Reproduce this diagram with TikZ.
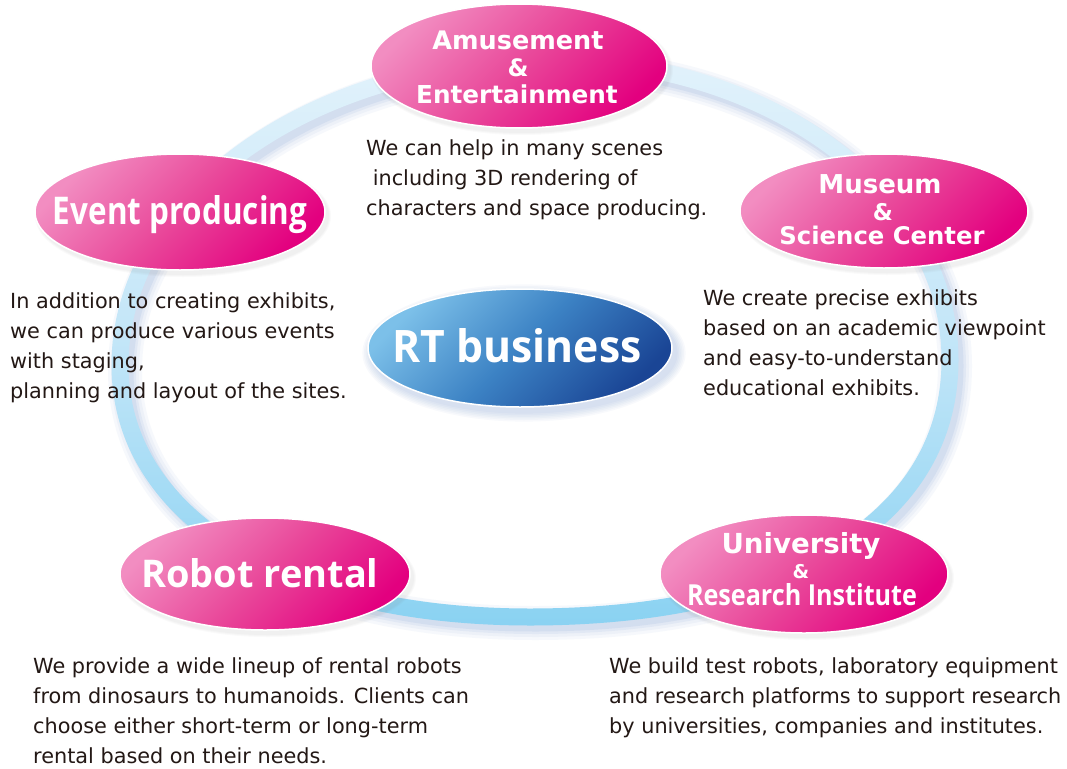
\documentclass[tikz,border=0pt]{standalone}
\usepackage{fontspec}
\usepackage{graphicx}
\setmainfont{DejaVu Sans}
\newfontfamily\meifont{Open Sans}
\usetikzlibrary{shapes.geometric}
\definecolor{txt}{HTML}{231815}
\definecolor{pinkA}{HTML}{F28DC1}
\definecolor{pinkB}{HTML}{E9489A}
\definecolor{pinkC}{HTML}{E3007F}
\definecolor{blueA}{HTML}{7CC0E9}
\definecolor{blueB}{HTML}{3C82C4}
\definecolor{blueC}{HTML}{1A4595}
\definecolor{ringT}{HTML}{E2F2FB}
\definecolor{ringM}{HTML}{C3E6F8}
\definecolor{ringB}{HTML}{8AD2F2}
\definecolor{shadowc}{HTML}{5E86C8}
\newcommand\ringpath[1]{%
 (550,{60-#1}) .. controls ({550+0.5523*(400+#1)},{60-#1}) and ({950+#1},{360-0.5523*(300+#1)}) .. ({950+#1},360)
 .. controls ({950+#1},{360+0.62*(257+#1)}) and ({530+0.62*(420+#1)},{617+#1}) .. (530,{617+#1})
 .. controls ({530-0.6*(410+#1)},{617+#1}) and ({120-#1},{365+0.6*(252+#1)}) .. ({120-#1},365)
 .. controls ({120-#1},{365-0.5523*(305+#1)}) and ({550-0.5523*(430+#1)},{60-#1}) .. (550,{60-#1}) -- cycle}
\tikzset{
  pinkell/.style={ellipse, inner sep=0pt, draw=white, line width=1.5pt,
    top color=pinkA, bottom color=pinkC, middle color=pinkB, shading angle=45},
  blueell/.style={ellipse, inner sep=0pt, draw=white, line width=1.5pt,
    top color=blueA, bottom color=blueC, middle color=blueB, shading angle=45},
  ttl/.style={inner sep=0pt, anchor=base, text=white, font=\bfseries},
  body/.style={inner sep=0pt, anchor=base west, align=left, text=txt,
    font=\fontsize{20.8pt}{30pt}\selectfont},
}
\newcommand\fs[1]{\fontsize{#1pt}{#1pt}\selectfont}
\begin{document}
\begin{tikzpicture}[x=1pt,y=-1pt]
\useasboundingbox (0,0) rectangle (1067,768);
\fill[white] (0,0) rectangle (1067,768);
% ring shadow
\foreach \w/\o in {34/0.05, 28/0.06, 22/0.08, 17/0.1}{
  \draw[shadowc, line width=\w pt, opacity=\o, shift={(5,6)}] \ringpath{0};
}
% ring band
\shade[even odd rule, top color=ringT, bottom color=ringB, middle color=ringM] \ringpath{8.5} \ringpath{-8.5};
% shadows of ellipses
\foreach \k in {1,...,6}{
  \fill[shadowc, opacity=0.045] (524,353) ellipse ({152+1.6*\k} and {59+1.6*\k});
}
\foreach \cx/\cy/\rx/\ry in {519/66/148/62, 180/212/145/58, 884/211/144/57, 265/574/145/56, 804/574/144/59}{
  \foreach \k in {1,...,3}{
    \fill[gray, opacity=0.04] ({\cx+3},{\cy+4}) ellipse ({\rx+\k} and {\ry+\k});
  }
}
% ellipses
\node[pinkell, minimum width=296pt, minimum height=124pt] (amuse) at (519,66) {};
\node[pinkell, minimum width=290pt, minimum height=116pt] (event) at (180,212) {};
\node[pinkell, minimum width=288pt, minimum height=114pt] (museum) at (884,211) {};
\node[pinkell, minimum width=290pt, minimum height=112pt] (robot) at (265,574) {};
\node[pinkell, minimum width=288pt, minimum height=118pt] (univ) at (804,574) {};
\node[blueell, minimum width=304pt, minimum height=118pt] (rt) at (520,348) {};
% titles
\node[ttl, font=\bfseries\fs{25.5}] (amuse1) at (518,49) {Amusement};
\node[ttl, font=\bfseries\fs{24}] (amuse2) at (518,76) {\&};
\node[ttl, font=\bfseries\fs{24.7}] (amuse3) at (517,103) {Entertainment};
\node[ttl] (event1) at (180,224) {\resizebox{254pt}{29pt}{\meifont\bfseries Event producing}};
\node[ttl, font=\bfseries\fs{26}] (museum1) at (880,193) {Museum};
\node[ttl, font=\bfseries\fs{23}] (museum2) at (883,220) {\&};
\node[ttl, font=\bfseries\fs{24.3}] (museum3) at (882,244) {Science Center};
\node[ttl] (robot1) at (260,587) {\resizebox{237pt}{29pt}{\meifont\bfseries Robot rental}};
\node[ttl] (rt1) at (517,362) {\resizebox{249pt}{34pt}{\meifont\bfseries RT business}};
\node[ttl, font=\bfseries\fs{27.6}] (univ1) at (801,553) {University};
\node[ttl, font=\bfseries\fs{19}] (univ2) at (801,578.5) {\&};
\node[ttl] (univ3) at (802,605) {\resizebox{230pt}{22pt}{\meifont\bfseries Research Institute}};
% body texts (anchor = baseline of last line)
\node[body] (amuseT) at (366,215) {We can help in many scenes\\\ including 3D rendering of\\characters and space producing.};
\node[body] (eventT) at (10,398) {In addition to creating exhibits,\\we can produce various events\\with staging,\\planning and layout of the sites.};
\node[body] (museumT) at (703,395) {We create precise exhibits\\based on an academic viewpoint\\and easy-to-understand\\educational exhibits.};
\node[body] (robotT) at (33,763) {We provide a wide lineup of rental robots\\from dinosaurs to humanoids. Clients can\\choose either short-term or long-term\\rental based on their needs.};
\node[body] (univT) at (609,733) {We build test robots, laboratory equipment\\and research platforms to support research\\by universities, companies and institutes.};
\end{tikzpicture}
\end{document}
